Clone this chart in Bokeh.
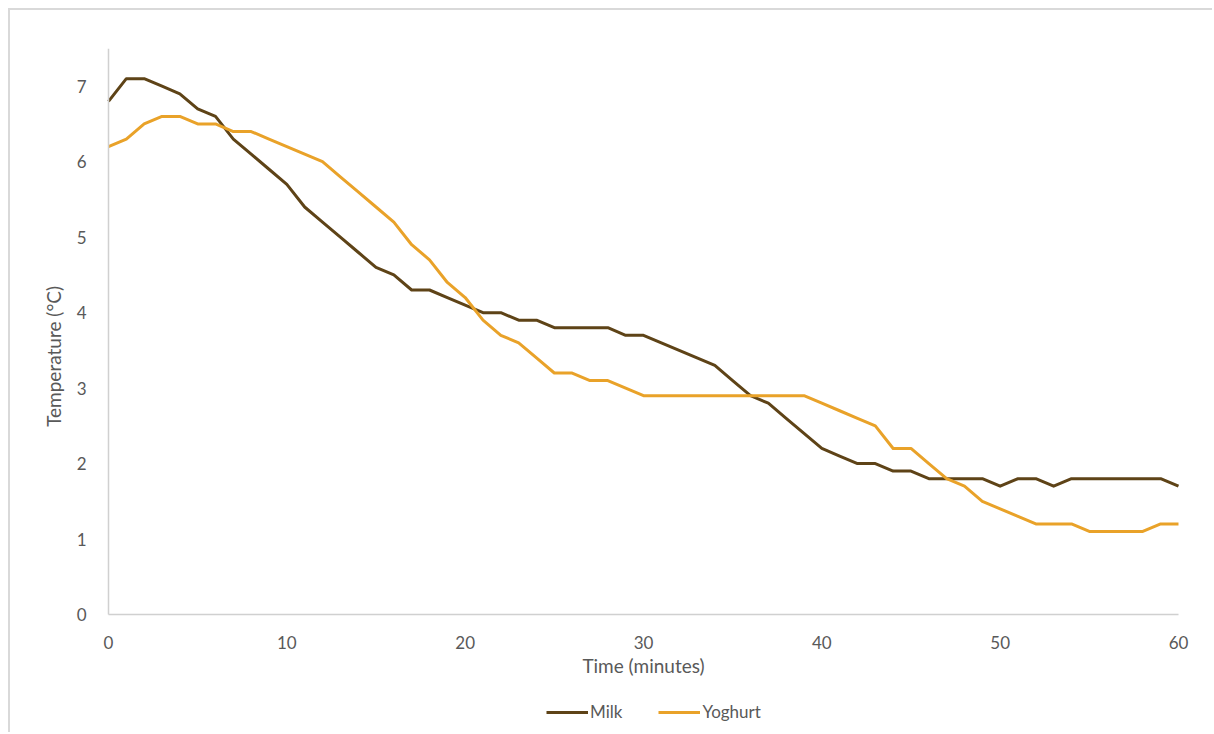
import math
from bokeh.plotting import figure
from bokeh.models import (Range1d, FixedTicker, Legend, LegendItem, ColumnDataSource, Label)
from bokeh.embed import file_html
from bokeh.resources import INLINE

time_min = list(range(0, 61))
milk = [6.8, 7.1, 7.1, 7.0, 6.9, 6.7, 6.6, 6.3, 6.1, 5.9,
        5.7, 5.4, 5.2, 5.0, 4.8, 4.6, 4.5, 4.3, 4.3, 4.2,
        4.1, 4.0, 4.0, 3.9, 3.9, 3.8, 3.8, 3.8, 3.8, 3.7,
        3.7, 3.6, 3.5, 3.4, 3.3, 3.1, 2.9, 2.8, 2.6, 2.4,
        2.2, 2.1, 2.0, 2.0, 1.9, 1.9, 1.8, 1.8, 1.8, 1.8,
        1.7, 1.8, 1.8, 1.7, 1.8, 1.8, 1.8, 1.8, 1.8, 1.8,
        1.7]
yoghurt = [6.2, 6.3, 6.5, 6.6, 6.6, 6.5, 6.5, 6.4, 6.4, 6.3,
           6.2, 6.1, 6.0, 5.8, 5.6, 5.4, 5.2, 4.9, 4.7, 4.4,
           4.2, 3.9, 3.7, 3.6, 3.4, 3.2, 3.2, 3.1, 3.1, 3.0,
           2.9, 2.9, 2.9, 2.9, 2.9, 2.9, 2.9, 2.9, 2.9, 2.9,
           2.8, 2.7, 2.6, 2.5, 2.2, 2.2, 2.0, 1.8, 1.7, 1.5,
           1.4, 1.3, 1.2, 1.2, 1.2, 1.1, 1.1, 1.1, 1.1, 1.2,
           1.2]
x_ticks = [0, 10, 20, 30, 40, 50, 60]
y_ticks = [0, 1, 2, 3, 4, 5, 6, 7]
series_names = ["Milk", "Yoghurt"]
x_title = "Time (minutes)"
y_title = "Temperature (°C)"

FONT = "Lato"
TXT = "#595959"
MILK_C = "#5E4317"
YOG_C = "#E9A229"

src = ColumnDataSource(dict(t=time_min, milk=milk, yog=yoghurt))

# The frame covers (almost) the whole canvas so that axes pinned at 0 and the
# legend, all drawn inside it, are not clipped.
p = figure(width=1204, height=724, output_backend="svg", toolbar_location=None,
           x_range=Range1d(-4.935, 61.234), y_range=Range1d(-1.59, 7.5),
           min_border_left=10, min_border_right=14, min_border_top=38,
           min_border_bottom=0)
p.styles = {"border-left": "2px solid #d9d9d9", "border-top": "2px solid #d9d9d9",
            "margin-left": "8px", "margin-top": "8px"}
p.background_fill_color = "white"
p.border_fill_color = "white"
p.outline_line_color = None
p.xgrid.visible = False
p.ygrid.visible = False

for ax in (p.xaxis[0], p.yaxis[0]):
    ax.axis_line_color = "#d0d0d0"
    ax.axis_line_width = 1.5
    ax.major_tick_line_color = None
    ax.minor_tick_line_color = None
    ax.major_label_text_font = FONT
    ax.major_label_text_font_size = "17px"
    ax.major_label_text_color = TXT
    ax.axis_label_text_font = FONT
    ax.axis_label_text_font_size = "19px"
    ax.axis_label_text_color = TXT
    ax.axis_label_text_font_style = "normal"

p.xaxis.fixed_location = 0
p.yaxis.fixed_location = 0
p.xaxis.bounds = (0, 60)
p.yaxis.bounds = (0, 7.5)
p.xaxis.ticker = FixedTicker(ticks=x_ticks)
p.yaxis.ticker = FixedTicker(ticks=y_ticks)
p.xaxis.axis_label = x_title
p.xaxis.major_label_standoff = 15
p.yaxis.major_label_standoff = 16
p.xaxis.axis_label_standoff = 2

# y-axis title placed as in the reference (slightly below the axis middle)
p.add_layout(Label(x=-3.11, y=3.42, text=y_title, angle=math.pi / 2,
                   text_align="center", text_baseline="middle",
                   text_font=FONT, text_font_size="19px", text_color=TXT))

r_milk = p.line("t", "milk", source=src, line_color=MILK_C, line_width=3, line_join="round")
r_yog = p.line("t", "yog", source=src, line_color=YOG_C, line_width=3, line_join="round")

legend = Legend(items=[LegendItem(label=series_names[0], renderers=[r_milk]),
                       LegendItem(label=series_names[1], renderers=[r_yog])],
                orientation="horizontal", location=(526, 12),
                label_text_font=FONT, label_text_font_size="17px",
                label_text_color=TXT, glyph_width=42, glyph_height=20,
                label_height=20, label_standoff=2, spacing=36,
                padding=0, margin=0, border_line_color=None,
                background_fill_alpha=0)
p.add_layout(legend, "center")

open("out.html", "w").write(file_html(p, INLINE))
